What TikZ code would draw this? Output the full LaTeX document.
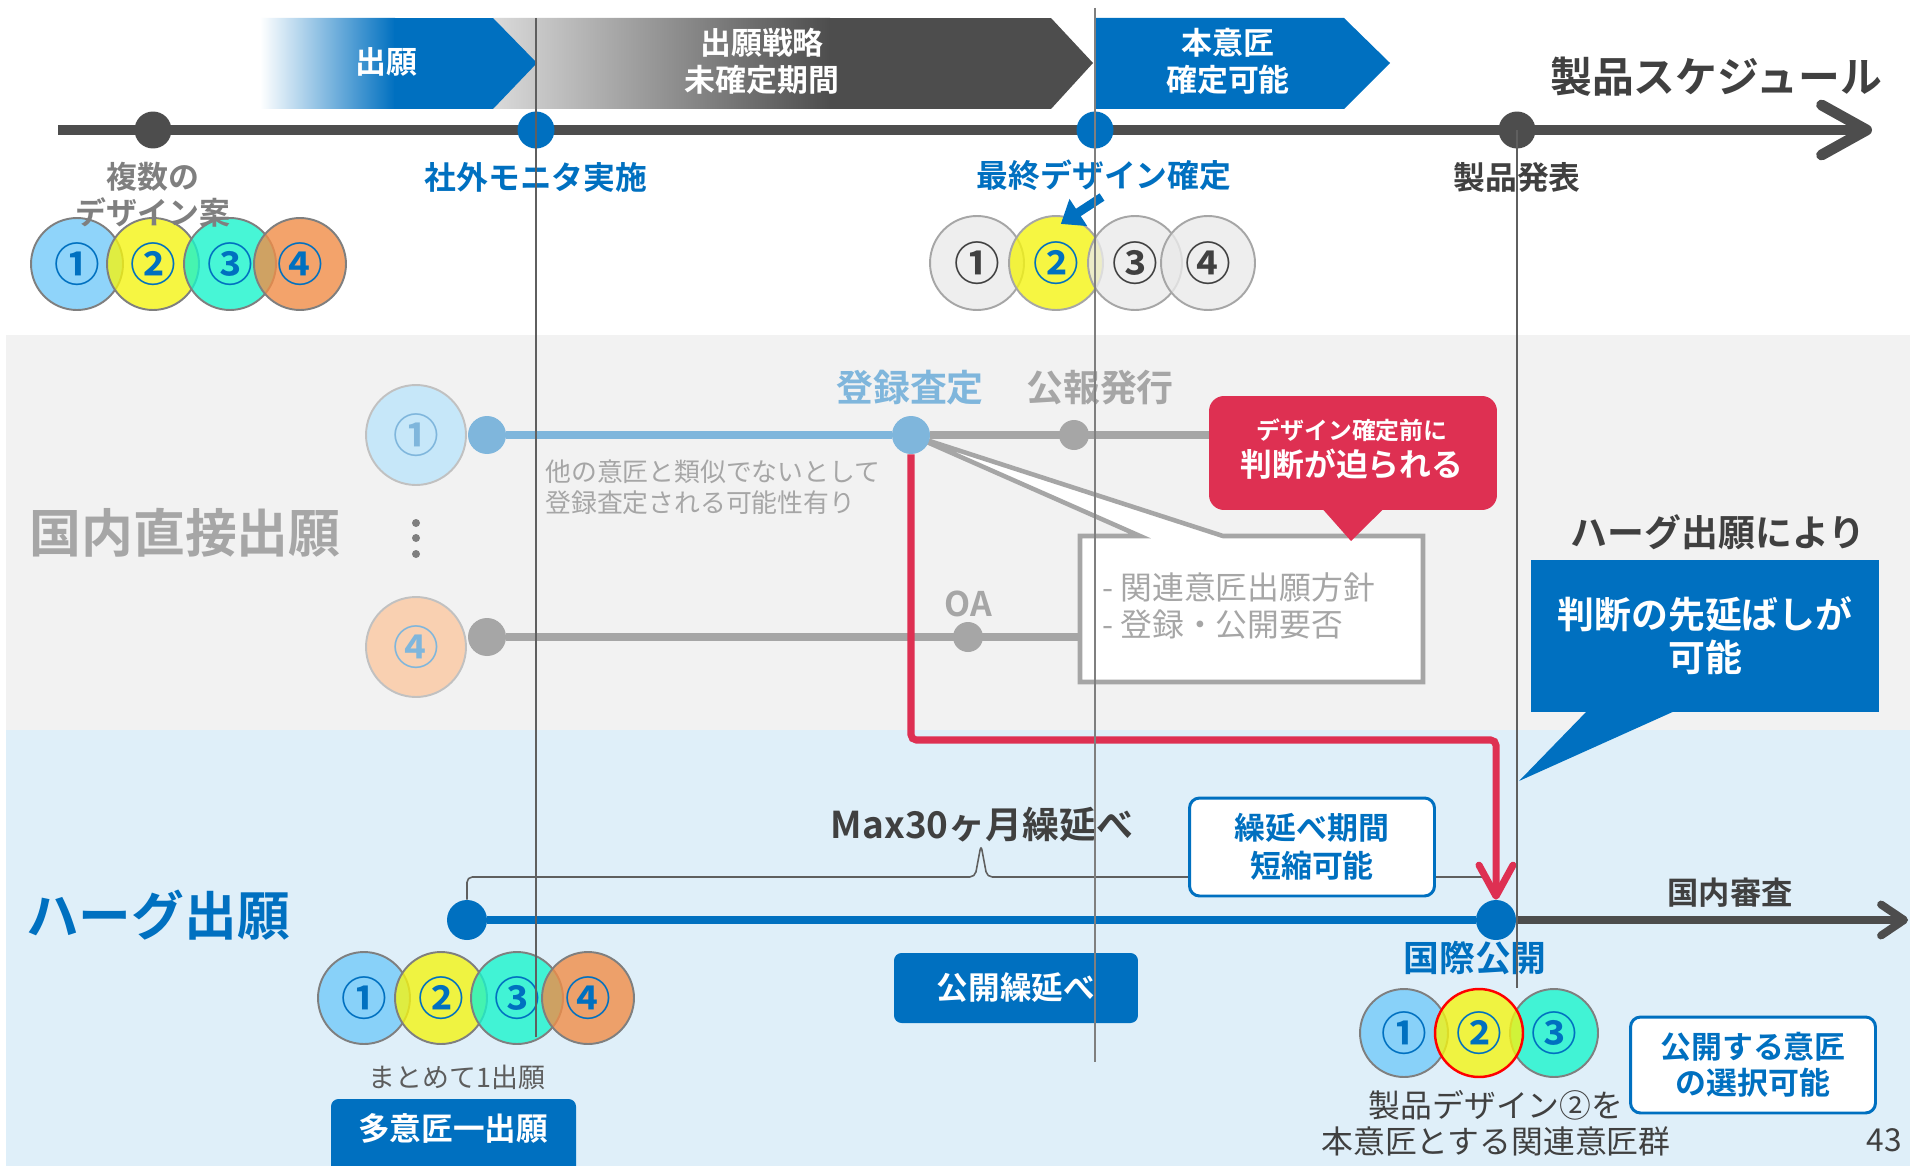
\documentclass[tikz,border=0pt]{standalone}
\usepackage{fontspec}
\setmainfont{Noto Sans CJK JP}[BoldFont={Noto Sans CJK JP Bold}]
\usetikzlibrary{arrows.meta}
\definecolor{bl}{HTML}{0070C0}
\definecolor{dg}{HTML}{4D4D4D}
\definecolor{tg}{HTML}{404040}
\definecolor{mg}{HTML}{7F7F7F}
\definecolor{lg}{HTML}{A6A6A6}
\definecolor{vg}{HTML}{5F5F5F}
\definecolor{cgl}{HTML}{DADADA}
\definecolor{bgray}{HTML}{F2F2F2}
\definecolor{bblue}{HTML}{DFEFF9}
\definecolor{rd}{HTML}{DE3052}
\definecolor{pb}{HTML}{7FB6DC}
\definecolor{cone}{HTML}{73CAF9}
\definecolor{ctwo}{HTML}{F4F413}
\definecolor{cthree}{HTML}{1AF4CC}
\definecolor{cfour}{HTML}{F18D47}
\definecolor{cnone}{HTML}{EAEAEA}
\definecolor{pone}{HTML}{C6E7F9}
\definecolor{pfour}{HTML}{F9D0B1}
\newcommand{\fsz}[2]{\fontsize{#1}{#2}\selectfont}

\begin{document}
\begin{tikzpicture}[x=0.02cm, y=-0.02cm,
	tdot/.style={circle, inner sep=0pt, minimum size=0.74cm},
	sdot/.style={circle, inner sep=0pt, minimum size=0.6cm, fill=lg},
	dsn/.style={circle, draw=mg, line width=1.1pt, inner sep=0pt, minimum size=1.84cm, fill opacity=0.8, text opacity=1, text=bl, font=\fsz{26}{26}\bfseries},
	lbl/.style={inner sep=0pt, align=center},
	hd/.style={lbl, font=\fsz{17.6}{21}\bfseries},
	whitebox/.style={draw=bl, line width=1.7pt, fill=white, rounded corners=0.2cm, inner sep=0pt, align=center, text=bl, font=\fsz{17.6}{21.5}\bfseries},
	vline/.style={draw=vg, line width=1.1pt}]
	\useasboundingbox (0,0) rectangle (1910,1166);
	\fill[white] (0,0) rectangle (1910,1166);
	\fill[bgray] (6,335) rectangle (1910,730);
	\fill[bblue] (6,730) rectangle (1910,1166);

	% phases
	\begin{scope}
		\clip (493,18) -- (1051,18) -- (1093,63) -- (1051,109) -- (493,109) -- cycle;
		\shade[left color=cgl, right color=dg] (493,18) rectangle (830,109);
		\fill[dg] (829,18) rectangle (1100,109);
	\end{scope}
	\begin{scope}
		\clip (260,18) -- (493,18) -- (537,63) -- (493,109) -- (260,109) -- cycle;
		\shade[left color=white, right color=bl] (260,18) rectangle (395,109);
		\fill[bl] (394,18) rectangle (540,109);
	\end{scope}
	\fill[bl] (1095,18) -- (1344,18) -- (1390,63) -- (1344,109) -- (1095,109) -- cycle;
	\node[hd, text=white] (tApp) at (386,62) {出願};
	\node[hd, text=white] (tUndec) at (762,61) {出願戦略\\未確定期間};
	\node[hd, text=white] (tMain) at (1228,61) {本意匠\\確定可能};
	\node[lbl, text=tg, font=\fsz{23.8}{26}\bfseries] (tTitle) at (1716,77) {製品スケジュール};

	% product schedule
	\coordinate (tlS) at (58,130);
	\coordinate (tlE) at (1872,130);
	\draw[dg, line width=6.2pt, -{Straight Barb[length=0.9cm, width=1cm, round]}] (tlS) -- (tlE);
	\node[tdot, fill=dg] (dDesign) at (153,130) {};
	\node[tdot, fill=bl] (dMonitor) at (536,130) {};
	\node[tdot, fill=bl] (dFinal) at (1095,130) {};
	\node[tdot, fill=dg] (dRelease) at (1517,130) {};

	\node[dsn, fill=cone] (a1) at (77,264) {①};
	\node[dsn, fill=ctwo] (a2) at (153,264) {②};
	\node[dsn, fill=cthree] (a3) at (230,264) {③};
	\node[dsn, fill=cfour] (a4) at (300,264) {④};
	\node[dsn, fill=cnone, draw=lg, text=tg, minimum size=1.88cm] (m1) at (977,263) {①};
	\node[dsn, fill=ctwo, draw=lg, minimum size=1.88cm] (m2) at (1056,263) {②};
	\node[dsn, fill=cnone, draw=lg, text=tg, minimum size=1.88cm] (m3) at (1135,263) {③};
	\node[dsn, fill=cnone, draw=lg, text=tg, minimum size=1.88cm] (m4) at (1208,263) {④};
	\coordinate (pA) at (1102,197);
	\draw[bl, line width=5pt, shorten >=-0.24cm, -{Triangle[length=0.42cm, width=0.62cm]}] (pA) -- (m2.72);

	\node[hd, text=mg, font=\fsz{17.6}{20.4}\bfseries] (lDesign) at (153,195) {複数の\\デザイン案};
	\node[lbl, text=bl, font=\fsz{18.1}{21}\bfseries] (lMonitor) at (536,177) {社外モニタ実施};
	\node[lbl, text=bl, font=\fsz{18.1}{21}\bfseries] (lFinal) at (1104,175) {最終デザイン確定};
	\node[lbl, text=tg, font=\fsz{18.1}{21}\bfseries] (lRelease) at (1517,177) {製品発表};

	% domestic filing
	\node[lbl, text=lg, font=\fsz{29.5}{32}\bfseries] (tDomestic) at (185,533) {国内直接出願};
	\fill[mg] (416,523) circle (4) (416,538) circle (4) (416,554) circle (4);
	\coordinate (regC) at (911,435);
	\draw[lg, line width=2.6pt, fill=white] (1140,536) -- (regC) -- (1223,536) -- (1423,536) -- (1423,682) -- (1080,682) -- (1080,536) -- cycle;
	\node[lbl, anchor=west, align=left, text=lg, font=\fsz{18.1}{21.5}] (nPol) at (1102,606) {- 関連意匠出願方針\\- 登録・公開要否};
	\node[fill=rd, rounded corners=0.3cm, minimum width=5.76cm, minimum height=2.28cm, inner sep=0pt] (warn) at (1353,453) {};
	\fill[rd] ([shift={(-31,-2)}]warn.south) -- (1351,541) -- ([shift={(31,-2)}]warn.south) -- cycle;
	\node[lbl, text=white, font=\fsz{13.6}{16}\bfseries] (warnA) at (1352,430) {デザイン確定前に};
	\node[lbl, text=white, font=\fsz{18.1}{21}\bfseries] (warnB) at (1352,464) {判断が迫られる};

	\node[dsn, fill=pone, draw=lg!70, text=pb, fill opacity=1, minimum size=2cm] (pOne) at (416,435) {①};
	\node[dsn, fill=pfour, draw=lg!70, text=pb, fill opacity=1, minimum size=2cm] (pFour) at (416,647) {④};
	\node[tdot, fill=pb, minimum size=0.76cm] (pOneD) at (487,435) {};
	\node[tdot, fill=lg, minimum size=0.76cm] (pFourD) at (487,637) {};
	\node[tdot, fill=pb, minimum size=0.76cm] (reg) at (regC) {};
	\draw[pb, line width=4.5pt] (pOneD.east) -- (reg.west);
	\draw[lg, line width=4.5pt] (reg.east) -- (reg.east -| warn.west);
	\node[sdot] (pub) at (1074,435) {};
	\coordinate (polL) at (1080,637);
	\draw[lg, line width=4.5pt] (pFourD.east) -- (polL);
	\node[sdot] (oa) at (968,637) {};
	\node[lbl, text=pb, font=\fsz{21}{24}\bfseries] (lReg) at (910,388) {登録査定};
	\node[lbl, text=lg, font=\fsz{21}{24}\bfseries] (lPub) at (1100,388) {公報発行};
	\node[lbl, text=lg, font=\fsz{19.3}{22}\bfseries] (lOA) at (968,604) {OA};
	\node[lbl, anchor=west, align=left, text=lg, font=\fsz{14.7}{17.6}] (nReg) at (545,487) {他の意匠と類似でないとして\\登録査定される可能性有り};

	\node[lbl, text=tg, font=\fsz{21}{24}\bfseries] (tBy) at (1718,532) {ハーグ出願により};
	\node[fill=bl, minimum width=6.96cm, minimum height=3.06cm, inner sep=0pt, align=center, text=white, font=\fsz{21}{24.4}\bfseries] (defer) at (1705,636) {判断の先延ばしが\\可能};
	\fill[bl] (1588,710) -- (1519,781) -- (1677,710) -- cycle;

	% hague filing
	\node[lbl, text=bl, font=\fsz{30}{32}\bfseries] (tHague) at (158,915) {ハーグ出願};
	\node[tdot, fill=bl, minimum size=0.8cm] (hStart) at (467,920) {};
	\node[tdot, fill=bl, minimum size=0.8cm] (intl) at (1496,920) {};
	\draw[bl, line width=4.5pt] (hStart.east) -- (intl.west);
	\coordinate (domEnd) at (1908,920);
	\draw[dg, line width=4.5pt, -{Straight Barb[length=0.46cm, width=0.62cm, round]}] (intl.east) -- (domEnd);
	\draw[vg, line width=0.9pt, rounded corners=3pt] (hStart.north) -- (467,877) -- (975,877) -- (981,845) -- (987,877) -- (1483,877);
	\node[whitebox, minimum width=4.9cm, minimum height=1.96cm] (shorten) at (1312,847) {繰延べ期間\\短縮可能};
	\node[lbl, text=tg, font=\fsz{21}{24}\bfseries] (lMax) at (982,825) {Max30ヶ月繰延べ};
	\node[lbl, text=tg, font=\fsz{17.8}{21}\bfseries] (lDom) at (1730,893) {国内審査};
	\coordinate (rBend) at (1496,740);
	\draw[rd, line width=4pt, rounded corners=3pt, -{Straight Barb[length=0.62cm, width=0.68cm, round]}] (reg.south) |- (rBend) -- (intl.north);
	\node[fill=bl, rounded corners=0.15cm, minimum width=4.88cm, minimum height=1.4cm, inner sep=0pt, text=white, font=\fsz{18}{21}\bfseries] (pubDefer) at (1016,988) {公開繰延べ};
	\node[lbl, text=bl, font=\fsz{20.4}{23}\bfseries] (lIntl) at (1475,958) {国際公開};

	\node[dsn, fill=cone] (b1) at (364,998) {①};
	\node[dsn, fill=ctwo] (b2) at (441,998) {②};
	\node[dsn, fill=cthree] (b3) at (517,998) {③};
	\node[dsn, fill=cfour] (b4) at (588,998) {④};
	\node[lbl, text=tg!85, font=\fsz{15.3}{18}] (lOne) at (457,1077) {まとめて1出願};
	\fill[bl, rounded corners=0.15cm] (331,1099) rectangle (576,1190);
	\node[lbl, text=white, font=\fsz{18}{21}\bfseries] (tMulti) at (453,1128) {多意匠一出願};

	\node[dsn, fill=cone, minimum size=1.76cm] (r1) at (1404,1033) {①};
	\node[dsn, fill=cthree, minimum size=1.76cm] (r3) at (1554,1033) {③};
	\node[dsn, fill=ctwo, draw=red, line width=1.4pt, minimum size=1.76cm] (r2) at (1479,1033) {②};
	\node[lbl, text=tg, font=\fsz{18.1}{20.4}] (nGroup) at (1496,1123) {製品デザイン②を\\本意匠とする関連意匠群};
	\node[whitebox, minimum width=4.9cm, minimum height=1.92cm, font=\fsz{17.6}{20.4}\bfseries] (select) at (1753,1065) {公開する意匠\\の選択可能};
	\node[lbl, text=tg, font=\fsz{18}{20}] (page) at (1884,1140) {43};

	% guide lines
	\draw[vline] (536,18) -- (536,1037);
	\draw[vline, draw=mg, line width=0.8pt] (1095,8) -- (1095,1062);
	\draw[vline] (dRelease.center) -- (1517,988);
\end{tikzpicture}
\end{document}
